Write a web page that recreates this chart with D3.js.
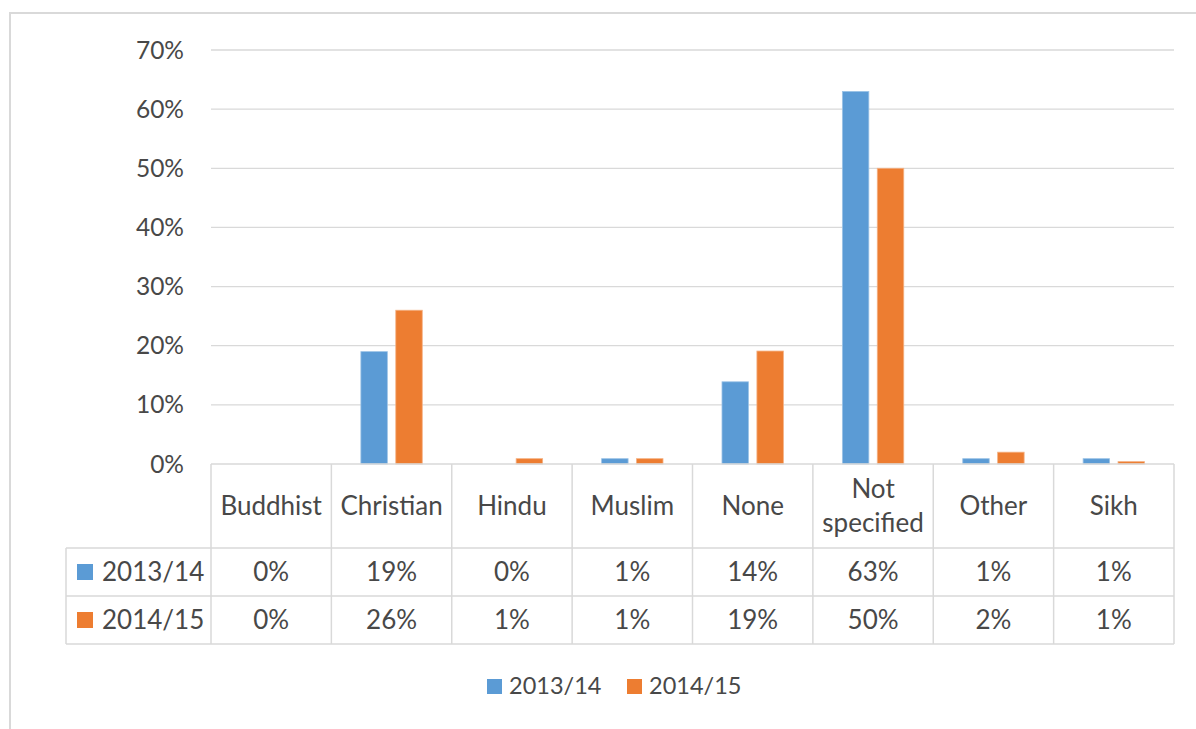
<!DOCTYPE html>
<html>
<head>
<meta charset="utf-8">
<script src="https://cdn.jsdelivr.net/npm/d3@7"></script>
<style>
  body { margin: 0; background: #fff; }
  text { font-family: Lato, "Open Sans", sans-serif; fill: #484848; }
</style>
</head>
<body>
<svg id="chart" width="1196" height="729"></svg>
<script>
// data
let categories = ["Buddhist", "Christian", "Hindu", "Muslim", "None", "Not specified", "Other", "Sikh"]
let seriesNames = ["2013/14", "2014/15"]
let values1314 = [0, 0.19, 0, 0.009, 0.139, 0.63, 0.009, 0.009]
let values1415 = [0, 0.26, 0.009, 0.009, 0.191, 0.50, 0.02, 0.004]
let labels1314 = ["0%", "19%", "0%", "1%", "14%", "63%", "1%", "1%"]
let labels1415 = ["0%", "26%", "1%", "1%", "19%", "50%", "2%", "1%"]
let yTicks = [0, 0.1, 0.2, 0.3, 0.4, 0.5, 0.6, 0.7]
let colors = ["#5b9bd5", "#ed7d31"]

let svg = d3.select("#chart")
let gridColor = "#d9d9d9"

// outer frame (top and left edge visible)
svg.append("path")
    .attr("d", "M10,729 L10,13 L1196,13")
    .attr("fill", "none")
    .attr("stroke", gridColor)
    .attr("stroke-width", 2)

let plotLeft = 211, plotRight = 1174
let plotTop = 50, plotBottom = 464

let x = d3.scaleBand().domain(categories).range([plotLeft, plotRight])
let y = d3.scaleLinear().domain([0, 0.7]).range([plotBottom, plotTop])

// gridlines
svg.append("g").selectAll("line")
    .data(yTicks.filter(d => d > 0))
    .join("line")
    .attr("x1", plotLeft).attr("x2", plotRight)
    .attr("y1", d => y(d)).attr("y2", d => y(d))
    .attr("stroke", gridColor)
    .attr("stroke-width", 1.3)

// y tick labels
svg.append("g").selectAll("text")
    .data(yTicks)
    .join("text")
    .attr("x", 184)
    .attr("y", d => y(d))
    .attr("dy", "0.35em")
    .attr("text-anchor", "end")
    .style("font-size", "24.5px")
    .text(d => d3.format(".0%")(d))

// bars
let step = x.bandwidth()
let barW = step * 0.22
let gap = step * 0.07
let series = [values1314, values1415]
series.forEach((vals, i) => {
    svg.append("g").selectAll("rect")
        .data(vals.map((v, j) => ({cat: categories[j], v: v})).filter(d => d.v > 0))
        .join("rect")
        .attr("x", d => x(d.cat) + step / 2 + (i == 0 ? -gap / 2 - barW : gap / 2))
        .attr("y", d => y(d.v))
        .attr("width", barW)
        .attr("height", d => y(0) - y(d.v))
        .attr("fill", colors[i])
        .attr("stroke", i == 0 ? "#9cc3e6" : "#f4b183")
        .attr("stroke-width", 0.8)
})

// data table
let rowTop = [464, 548, 596, 644]
let tableLeft = 66
let tbl = svg.append("g").attr("stroke", gridColor).attr("stroke-width", 1.5)
// horizontal lines
tbl.append("line").attr("x1", plotLeft).attr("x2", plotRight).attr("y1", rowTop[0]).attr("y2", rowTop[0])
rowTop.slice(1).forEach(r => {
    tbl.append("line").attr("x1", tableLeft).attr("x2", plotRight).attr("y1", r).attr("y2", r)
})
// vertical lines
tbl.append("line").attr("x1", tableLeft).attr("x2", tableLeft).attr("y1", rowTop[1]).attr("y2", rowTop[3])
categories.forEach(c => {
    tbl.append("line").attr("x1", x(c)).attr("x2", x(c)).attr("y1", rowTop[0]).attr("y2", rowTop[3])
})
tbl.append("line").attr("x1", plotRight).attr("x2", plotRight).attr("y1", rowTop[0]).attr("y2", rowTop[3])

// header labels
let header = svg.append("g").selectAll("text")
    .data(categories)
    .join("text")
    .attr("x", d => x(d) + step / 2)
    .attr("y", (rowTop[0] + rowTop[1]) / 2)
    .attr("text-anchor", "middle")
    .style("font-size", "26px")
header.each(function(d) {
    let words = d == "Not specified" ? ["Not", "specified"] : [d]
    let t = d3.select(this)
    words.forEach((w, k) => {
        t.append("tspan")
            .attr("x", x(d) + step / 2)
            .attr("dy", k == 0 ? ((0.35 - (words.length - 1) * 0.65) + "em") : "1.3em")
            .text(w)
    })
})

// table rows
let rowLabels = [labels1314, labels1415]
rowLabels.forEach((labs, i) => {
    let cy = (rowTop[i + 1] + rowTop[i + 2]) / 2
    svg.append("rect")
        .attr("x", 77).attr("y", cy - 8)
        .attr("width", 16).attr("height", 16)
        .attr("fill", colors[i])
    svg.append("text")
        .attr("x", 102).attr("y", cy).attr("dy", "0.35em")
        .style("font-size", "26px")
        .text(seriesNames[i])
    svg.append("g").selectAll("text")
        .data(labs)
        .join("text")
        .attr("x", (d, j) => x(categories[j]) + step / 2)
        .attr("y", cy)
        .attr("dy", "0.35em")
        .attr("text-anchor", "middle")
        .style("font-size", "26px")
        .text(d => d)
})

// legend
let legendX = [487, 627]
seriesNames.forEach((s, i) => {
    svg.append("rect")
        .attr("x", legendX[i]).attr("y", 679)
        .attr("width", 15).attr("height", 15)
        .attr("fill", colors[i])
    svg.append("text")
        .attr("x", legendX[i] + 22).attr("y", 686).attr("dy", "0.35em")
        .style("font-size", "23.5px")
        .text(s)
})
</script>
</body>
</html>
